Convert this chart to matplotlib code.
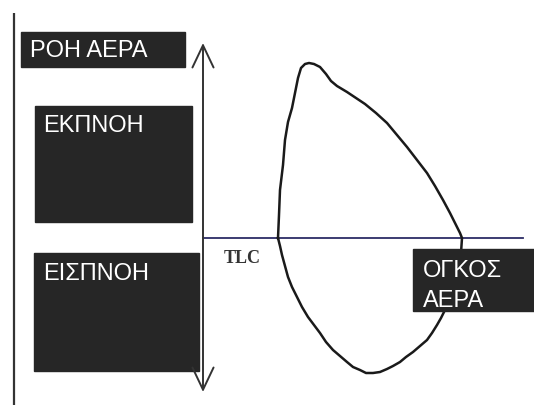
import matplotlib
matplotlib.use("Agg")
import matplotlib.pyplot as plt
from matplotlib.patches import Rectangle

# Flow-volume loop (volume to the right of the flow axis, flow positive = expiration)
exp_volume = [75, 76, 77, 80, 82, 85, 89, 92, 95, 98, 102, 106, 111, 117, 123, 128, 134,
              144, 153, 162, 173, 184, 194, 204, 214, 224, 232, 240, 247, 254, 257, 259]
exp_flow   = [0, 23, 48, 73, 98, 116, 130, 145, 160, 170, 174, 175, 174, 171, 164, 157, 152,
              146, 140, 134, 125, 115, 103, 91, 78, 65, 52, 38, 25, 11, 5, 0]
insp_volume = [258, 256, 253, 249, 245, 242, 238, 234, 229, 224, 217, 210, 203, 197, 190,
               184, 177, 170, 163, 157, 150, 144, 137, 130, 123, 117, 111, 105, 99, 94,
               89, 85, 82, 79, 77, 75]
insp_flow   = [-15, -25, -38, -52, -63, -72, -80, -87, -95, -102, -108, -114, -119, -124, -128,
               -131, -134, -135, -135, -132, -129, -124, -118, -112, -104, -95, -87, -79, -69, -59,
               -49, -39, -28, -17, -8, 0]

flow_label = "ΡΟΗ ΑΕΡΑ"
exp_label = "ΕΚΠΝΟΗ"
insp_label = "ΕΙΣΠΝΟΗ"
vol_label_lines = ["ΟΓΚΟΣ", "ΑΕΡΑ"]
tlc_label = "TLC"

fig = plt.figure(figsize=(5.34, 4.05), dpi=100)
ax = fig.add_axes([0, 0, 1, 1])
ax.set_xlim(-203, 331)
ax.set_ylim(-167, 238)
ax.axis("off")

box_color = "#262626"
font = "Liberation Sans"

# left frame line
ax.plot([-189, -189], [225, -167], color="#333333", lw=1.6, solid_capstyle="butt")

# boxes
ax.add_patch(Rectangle((-182, 171), 164, 35, color=box_color, zorder=3))
ax.add_patch(Rectangle((-168, 16), 157, 116, color=box_color, zorder=3))
ax.add_patch(Rectangle((-169, -133), 165, 118, color=box_color, zorder=3))
ax.add_patch(Rectangle((210, -73), 125, 62, color=box_color, zorder=5))

ax.text(-173, 181, flow_label, color="white", fontsize=17, family=font, va="baseline", zorder=6)
ax.text(-160, 106, exp_label, color="white", fontsize=17, family=font, va="baseline", zorder=6)
ax.text(-160, -42, insp_label, color="white", fontsize=17, family=font, va="baseline", zorder=6)
ax.text(220, -39, vol_label_lines[0], color="white", fontsize=17, family=font, va="baseline", zorder=6)
ax.text(220, -69, vol_label_lines[1], color="white", fontsize=17, family=font, va="baseline", zorder=6)

# flow axis double arrow
ax.annotate("", xy=(0, 195), xytext=(0, -154),
            arrowprops=dict(arrowstyle="<->,head_length=0.8,head_width=0.38",
                            mutation_scale=20, color="#333333", lw=1.4,
                            shrinkA=0, shrinkB=0), zorder=4)

# volume axis
ax.plot([0, 320], [0, 0], color="#2c2c66", lw=1.3, zorder=2)
ax.text(21, -25, tlc_label, color="#333333", fontsize=13, family="Liberation Serif",
        weight="bold", va="baseline")

# loop
ax.plot(exp_volume + insp_volume, exp_flow + insp_flow, color="#1a1a1a", lw=1.8,
        solid_joinstyle="round", zorder=4)

fig.savefig("out.png", dpi=100)
